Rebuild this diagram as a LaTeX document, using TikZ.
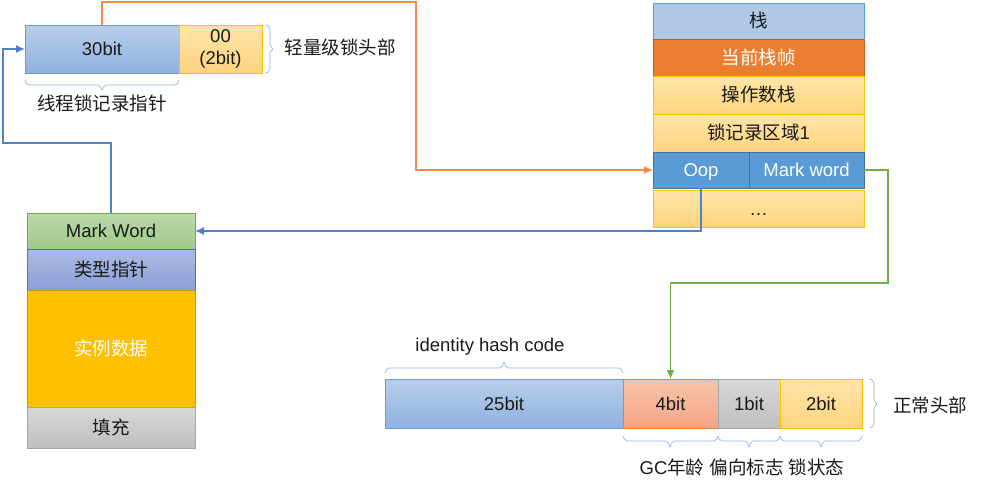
\documentclass[tikz,border=0pt]{standalone}
\usepackage{fontspec}
\setmainfont{Liberation Sans}
\newfontfamily\cjk{Noto Sans CJK SC}
\newcommand{\zh}[1]{{\cjk #1}}
\usetikzlibrary{arrows.meta}
\definecolor{txt}{HTML}{1A1A1A}
\definecolor{brk}{HTML}{8DB3E2}
\definecolor{oline}{HTML}{F08A4B}
\definecolor{bline}{HTML}{4F81C9}
\definecolor{gline}{HTML}{70AD47}
\tikzset{
  box/.style={draw, line width=0.9pt, inner sep=0pt, outer sep=0pt, text=txt, text height=14pt, text depth=1pt, font=\fontsize{18.5}{21}\selectfont},
  bluegrad/.style={box, top color={rgb,255:red,184;green,206;blue,235}, bottom color={rgb,255:red,143;green,178;blue,223}, draw={rgb,255:red,110;green,152;blue,208}},
  yelgrad/.style={box, top color={rgb,255:red,255;green,228;blue,170}, bottom color={rgb,255:red,253;green,212;blue,125}, draw={rgb,255:red,255;green,192;blue,0}},
  greengrad/.style={box, top color={rgb,255:red,186;green,216;blue,170}, bottom color={rgb,255:red,160;green,201;blue,138}, draw={rgb,255:red,112;green,173;blue,71}},
  purpgrad/.style={box, top color={rgb,255:red,172;green,186;blue,226}, bottom color={rgb,255:red,137;green,160;blue,216}, draw={rgb,255:red,68;green,114;blue,196}},
  graygrad/.style={box, top color={rgb,255:red,216;green,216;blue,216}, bottom color={rgb,255:red,191;green,191;blue,191}, draw={rgb,255:red,165;green,165;blue,165}},
  salgrad/.style={box, top color={rgb,255:red,248;green,197;blue,170}, bottom color={rgb,255:red,243;green,165;blue,133}, draw={rgb,255:red,237;green,125;blue,49}},
  oopbox/.style={box, fill={rgb,255:red,91;green,155;blue,213}, draw={rgb,255:red,65;green,113;blue,156}, text=white},
  brace/.style={draw=brk, line width=0.7pt, rounded corners=2pt},
  lbl/.style={text=txt, inner sep=0pt, font=\fontsize{18.5}{21}\selectfont},
  arr/.style={line width=1.4pt, -{Latex[length=9pt,width=8pt]}}
}
\begin{document}
\begin{tikzpicture}[x=1pt,y=-1pt]
\useasboundingbox (0,0) rectangle (981,493);
% top-left header
\node[bluegrad, minimum width=154pt, minimum height=48pt] (b30) at (102,49) {30bit};
\node[yelgrad, minimum width=83pt, minimum height=48pt, align=center, text height=, text depth=, font=\fontsize{18.5}{22}\selectfont] (b00) at (220.5,49) {00\\(2bit)};
\draw[brace] (266,25) -- (270,27) -- (270,47) -- (274,49) -- (270,51) -- (270,71) -- (266,73);
\node[lbl] (lh) at (340,47) {\zh{轻量级锁头部}};
\draw[brace] (25,80) -- (27,85) -- (100,85) -- (102,91) -- (104,85) -- (177,85) -- (179,80);
\node[lbl] (tp) at (102,103) {\zh{线程锁记录指针}};

% stack
\node[box, fill={rgb,255:red,175;green,200;blue,230}, draw={rgb,255:red,91;green,155;blue,213}, minimum width=211pt, minimum height=36pt] (s0) at (758.5,21) {\zh{栈}};
\node[box, fill={rgb,255:red,237;green,125;blue,49}, draw={rgb,255:red,190;green,95;blue,30}, text=white, minimum width=211pt, minimum height=37pt] (s1) at (758.5,57.5) {\zh{当前栈帧}};
\node[yelgrad, minimum width=211pt, minimum height=38pt] (s2) at (758.5,95) {\zh{操作数栈}};
\node[yelgrad, minimum width=211pt, minimum height=38pt] (s3) at (758.5,133) {\zh{锁记录区域}1};
\node[oopbox, minimum width=96pt, minimum height=36pt] (oop) at (701,170) {Oop};
\node[oopbox, minimum width=115pt, minimum height=36pt] (mkw) at (806.5,170) {Mark word};
\node[yelgrad, minimum width=211pt, minimum height=37pt] (s5) at (758.5,208.5) {\dots};

% object
\node[greengrad, minimum width=168pt, minimum height=36pt] (mw) at (111,231) {Mark Word};
\node[purpgrad, minimum width=168pt, minimum height=41pt] (tpp) at (111,269.5) {\zh{类型指针}};
\node[box, fill={rgb,255:red,255;green,192;blue,0}, draw={rgb,255:red,200;green,150;blue,0}, text=white, minimum width=168pt, minimum height=117pt] (inst) at (111,348.5) {\zh{实例数据}};
\node[graygrad, minimum width=168pt, minimum height=41pt] (pad) at (111,427.5) {\zh{填充}};

% normal header
\node[bluegrad, minimum width=238pt, minimum height=49pt] (b25) at (504,403.5) {25bit};
\node[salgrad, minimum width=95pt, minimum height=49pt] (b4) at (670.5,403.5) {4bit};
\node[graygrad, minimum width=62pt, minimum height=49pt] (b1) at (749,403.5) {1bit};
\node[yelgrad, minimum width=82pt, minimum height=49pt] (b2) at (821,403.5) {2bit};
\draw[brace] (385,373) -- (387,368) -- (502,368) -- (504,361) -- (506,368) -- (621,368) -- (623,373);
\node[lbl] (ihc) at (490,347) {identity hash code};
\draw[brace] (623,436) -- (625,441) -- (668,441) -- (670,448) -- (672,441) -- (716,441) -- (718,436);
\draw[brace] (718,436) -- (720,441) -- (747,441) -- (749,448) -- (751,441) -- (778,441) -- (780,436);
\draw[brace] (780,436) -- (782,441) -- (819,441) -- (821,448) -- (823,441) -- (860,441) -- (862,436);
\node[lbl] (gcl) at (742,467) {GC\zh{年龄} \zh{偏向标志} \zh{锁状态}};
\draw[brace] (870,379) -- (874,381) -- (874,402) -- (878,404) -- (874,406) -- (874,426) -- (870,428);
\node[lbl] (nh) at (930,405) {\zh{正常头部}};

% connectors
\coordinate (oc) at (416,2);
\draw[arr, oline, line width=1.1pt] (b30.north) |- (oc) |- (oop.west);
\coordinate (bc) at (3,143);
\draw[arr, bline] (mw.north) |- (bc) |- (b30.west);
\draw[arr, bline] (oop.south) |- (mw.east);
\coordinate (gc) at (888,283);
\draw[arr, gline] (mkw.east) -| (gc) -| (b4.north);
\end{tikzpicture}
\end{document}
